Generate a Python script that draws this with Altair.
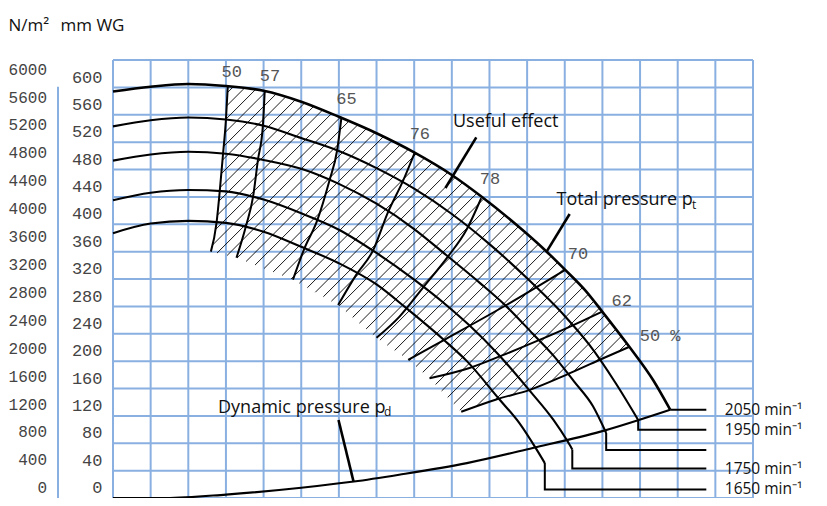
import numpy as np
import pandas as pd
import altair as alt

# ---------------- layout of the plot area ----------------
W, H = 640, 438
X_DOMAIN = [0, 17]            # flow, in grid columns (no scale printed)
Y_DOMAIN = [-15, 625]         # total pressure, mm WG
MM_TO_NM = 9.81
NM_DOMAIN = [Y_DOMAIN[0] * MM_TO_NM, Y_DOMAIN[1] * MM_TO_NM]

grid_cols = list(range(0, 18))
grid_rows = list(range(-15, 626, 40))
mm_ticks = list(range(0, 601, 40))
nm_ticks = list(range(0, 6001, 400))

# ---------------- total pressure curves (mm WG) ----------------
c2050_x = [0, 1, 2, 3, 4, 5, 6, 7, 8, 9, 9.75, 10.7, 11.5, 12, 12.55, 13, 13.7, 14.35, 14.8]
c2050_y = [579, 586, 590, 587, 580, 564, 542, 518, 490, 457, 427, 385, 346, 319, 288, 257, 207, 157, 114]
c1950_x = [0, 1, 2, 3, 4, 5, 6, 7, 8, 9, 10, 11, 12, 12.65, 13.35, 13.95]
c1950_y = [528, 537, 541, 538, 529, 511, 492, 467, 437, 400, 356, 306, 251, 209, 153, 99]
c1850_x = [0, 1, 2, 3, 4, 5, 6, 7, 8, 8.85, 9.75, 10.45, 11.15, 11.7, 12.25, 12.75, 13.1]
c1850_y = [478, 487, 491, 488, 479, 466, 444, 415, 378, 340, 299, 265, 225, 193, 155, 119, 80]
c1750_x = [0, 1, 2, 3, 4, 5, 6, 7, 8, 8.85, 9.45, 10.2, 11.05, 11.7, 12.05, 12.2]
c1750_y = [420, 431, 435, 433, 421, 401, 377, 343, 304, 267, 238, 197, 143, 99, 70, 56]
c1650_x = [0, 1, 2, 3, 4, 5, 6, 7, 7.8, 8.85, 9.4, 10.25, 10.8, 11.25, 11.47]
c1650_y = [372, 386, 390, 387, 374, 352, 328, 297, 262, 213, 185, 130, 94, 56, 36]

speeds = ["2050", "1950", "1850", "1750", "1650"]
speed_label_y = [114, 84.7, 55.1, 28, -2.5]
speed_text = ["2050 min⁻¹", "1950 min⁻¹", "", "1750 min⁻¹", "1650 min⁻¹"]
leader_end_x = 15.76
speed_text_x = 16.25

# ---------------- dynamic pressure ----------------
dp_x = [0, 1.4, 3, 5, 6.4, 7.6, 9.4, 11.15, 12.95, 14.8]
dp_y = [-15, -15, -10, 0, 9, 19, 36, 58, 82, 114]

# ---------------- efficiency lines (top -> bottom) ----------------
eff50a_x = [3.05, 3.0, 2.92, 2.83, 2.75, 2.6]
eff50a_y = [587, 538, 486, 430, 387, 345]
eff57_x = [4.03, 3.98, 3.85, 3.72, 3.54, 3.28]
eff57_y = [580, 528, 479, 425, 384, 336]
eff65_x = [6.07, 5.95, 5.75, 5.42, 5.08, 4.78]
eff65_y = [542, 492, 449, 390, 349, 304]
eff76_x = [8.01, 7.7, 7.3, 6.91, 6.46, 5.98]
eff76_y = [489, 448, 402, 347, 311, 267]
eff78_x = [9.78, 9.39, 8.9, 8.23, 7.61, 7.0]
eff78_y = [423, 377, 338, 292, 250, 219]
eff70_x = [12.0, 10.45, 8.86, 7.84]
eff70_y = [318, 267, 218, 187]
eff62_x = [12.98, 12.2, 11.33, 10.32, 9.47, 8.41]
eff62_y = [257, 237, 216, 193, 175, 160]
eff50p_x = [13.72, 12.93, 12.04, 11.07, 10.18, 9.25]
eff50p_y = [206, 187, 165, 143, 129, 111]

eff_names = ["50", "57", "65", "76", "78", "70", "62", "50 %"]
eff_label_x = [2.88, 3.90, 5.93, 7.88, 9.74, 12.08, 13.24, 13.99]
eff_label_y = [608, 602, 568, 517, 451, 341, 273, 221]

# ---------------- annotations ----------------
note_text = ["Useful effect", "Total pressure p", "Dynamic pressure p"]
note_x = [9.03, 11.78, 2.79]
note_y = [535, 421, 117]
sub_text = ["t", "d"]
sub_x = [15.38, 7.2]
sub_y = [413, 110]
pointer_x = [9.65, 12.13, 5.99]
pointer_y = [512, 400, 99]
pointer_x2 = [8.83, 11.53, 6.39]
pointer_y2 = [438, 346, 9]

HATCH_STEP = 12.5   # px between hatch lines

# ====================================================================
xs = alt.Scale(domain=X_DOMAIN, nice=False, zero=False)
ys = alt.Scale(domain=Y_DOMAIN, nice=False, zero=False)
BLUE = "#8ab0e1"
SANS = "Open Sans"
MONO = "Liberation Mono"


def X(f):
    return alt.X(f, type="quantitative", scale=xs, axis=None)


def Y(f, axis=None):
    return alt.Y(f, type="quantitative", scale=ys, axis=axis)


# grid
vgrid = alt.Chart(pd.DataFrame({"x": grid_cols, "y0": Y_DOMAIN[0], "y1": Y_DOMAIN[1]})).mark_rule(
    color=BLUE, strokeWidth=2).encode(x=X("x"), y=Y("y0"), y2="y1")

mm_axis = alt.Axis(values=mm_ticks, orient="left", format="d", ticks=False, domain=False, grid=False,
                   labelPadding=11, labelFont=MONO, labelFontSize=17, labelColor="#444",
                   labelOverlap=False, title="mm WG", titleAngle=0, titleX=-53, titleY=-35,
                   titleAlign="left", titleBaseline="middle", titleFont=SANS, titleFontSize=17,
                   titleFontWeight="normal", titleColor="#111")
hgrid = alt.Chart(pd.DataFrame({"y": grid_rows, "x0": X_DOMAIN[0], "x1": X_DOMAIN[1]})).mark_rule(
    color=BLUE, strokeWidth=2).encode(y=Y("y", mm_axis), x=X("x0"), x2="x1")

side_line = alt.Chart(pd.DataFrame({"y0": [586], "y1": [Y_DOMAIN[0]]})).mark_rule(
    color=BLUE, strokeWidth=2).encode(x=alt.value(-55), y=Y("y0"), y2="y1")

# hatch of the "useful effect" region
sx = W / (X_DOMAIN[1] - X_DOMAIN[0])
sy = H / (Y_DOMAIN[1] - Y_DOMAIN[0])
top_xs = np.linspace(eff50a_x[0], eff50p_x[0], 160)
top_ys = np.interp(top_xs, c2050_x, c2050_y)
env = [(eff62_x[-1], eff62_y[-1]), (eff70_x[-1], eff70_y[-1]), (eff78_x[-1], eff78_y[-1]),
       (eff76_x[-1], eff76_y[-1]), (eff65_x[-1], eff65_y[-1]), (eff57_x[-1], eff57_y[-1])]
poly_x = list(eff50a_x[::-1]) + list(top_xs) + list(eff50p_x) + [p[0] for p in env]
poly_y = list(eff50a_y[::-1]) + list(top_ys) + list(eff50p_y) + [p[1] for p in env]
u = np.array(poly_x) * sx
v = np.array(poly_y) * sy
d = u - v
segs = []
n = len(u)
for k in np.arange(d.min() + HATCH_STEP / 2, d.max(), HATCH_STEP):
    pts = []
    for i in range(n):
        j = (i + 1) % n
        f1, f2 = d[i] - k, d[j] - k
        if (f1 < 0) != (f2 < 0):
            t = f1 / (f1 - f2)
            pts.append((u[i] + t * (u[j] - u[i]), v[i] + t * (v[j] - v[i])))
    pts.sort()
    for a in range(0, len(pts) - 1, 2):
        (ua, va), (ub, vb) = pts[a], pts[a + 1]
        segs.append({"x": ua / sx, "y": va / sy, "x2": ub / sx, "y2": vb / sy})
hatch = alt.Chart(pd.DataFrame(segs)).mark_rule(color="black", strokeWidth=0.9).encode(
    x=X("x"), y=Y("y"), x2="x2", y2="y2")

# pressure curves
curve_rows = []
all_x = [c2050_x, c1950_x, c1850_x, c1750_x, c1650_x]
all_y = [c2050_y, c1950_y, c1850_y, c1750_y, c1650_y]
for name, cx, cy in zip(speeds, all_x, all_y):
    for a, b in zip(cx, cy):
        curve_rows.append({"speed": name, "x": a, "y": b, "w": 2.6 if name == "2050" else 2.1})
curves = alt.Chart(pd.DataFrame(curve_rows)).mark_line(color="black", interpolate="monotone").encode(
    x=X("x"), y=Y("y"), detail="speed:N",
    strokeWidth=alt.StrokeWidth("w:Q", scale=None, legend=None))

dyn = alt.Chart(pd.DataFrame({"x": dp_x, "y": dp_y})).mark_line(
    color="black", strokeWidth=2.1, interpolate="monotone").encode(x=X("x"), y=Y("y"))

# efficiency lines
eff_rows = []
for name, ex, ey in zip(eff_names, [eff50a_x, eff57_x, eff65_x, eff76_x, eff78_x, eff70_x, eff62_x, eff50p_x],
                        [eff50a_y, eff57_y, eff65_y, eff76_y, eff78_y, eff70_y, eff62_y, eff50p_y]):
    for i, (a, b) in enumerate(zip(ex, ey)):
        eff_rows.append({"eff": name, "x": a, "y": b, "i": i})
effs = alt.Chart(pd.DataFrame(eff_rows)).mark_line(color="black", strokeWidth=2, interpolate="monotone").encode(
    x=X("x"), y=Y("y"), detail="eff:N")

eff_lbl = alt.Chart(pd.DataFrame({"x": eff_label_x, "y": eff_label_y, "t": eff_names})).mark_text(
    align="left", baseline="middle", font=MONO, fontSize=17, color="#555").encode(
    x=X("x"), y=Y("y"), text="t:N")

# speed leaders
lead_rows = []
for name, cx, cy, ly in zip(speeds, all_x, all_y, speed_label_y):
    path = [(cx[-1], cy[-1]), (cx[-1], ly), (leader_end_x, ly)]
    for i, (a, b) in enumerate(path):
        lead_rows.append({"speed": name, "x": a, "y": b, "i": i})
leaders = alt.Chart(pd.DataFrame(lead_rows)).mark_line(color="black", strokeWidth=2).encode(
    x=X("x"), y=Y("y"), detail="speed:N", order="i:Q")

speed_lbl = alt.Chart(pd.DataFrame({"x": speed_text_x, "y": speed_label_y, "t": speed_text})).mark_text(
    align="left", baseline="middle", font=SANS, fontSize=15.5, color="#111").encode(
    x=X("x"), y=Y("y"), text="t:N")

pointers = alt.Chart(pd.DataFrame({"x": pointer_x, "y": pointer_y, "x2": pointer_x2, "y2": pointer_y2})).mark_rule(
    color="black", strokeWidth=2.6).encode(x=X("x"), y=Y("y"), x2="x2", y2="y2")

notes = alt.Chart(pd.DataFrame({"x": note_x, "y": note_y, "t": note_text})).mark_text(
    align="left", baseline="middle", font=SANS, fontSize=18, color="#111").encode(
    x=X("x"), y=Y("y"), text="t:N")
subs = alt.Chart(pd.DataFrame({"x": sub_x, "y": sub_y, "t": sub_text})).mark_text(
    align="left", baseline="middle", font=SANS, fontSize=12, color="#111").encode(
    x=X("x"), y=Y("y"), text="t:N")

nm_axis = alt.Axis(values=nm_ticks, orient="left", offset=55, format="d", ticks=False, domain=False,
                   grid=False, labelPadding=11.5, labelFont=MONO, labelFontSize=16, labelColor="#444",
                   labelOverlap=False, title="N/m²", titleAngle=0, titleX=-50, titleY=-35,
                   titleAlign="left", titleBaseline="middle", titleFont=SANS, titleFontSize=17,
                   titleFontWeight="normal", titleColor="#111")
nm_layer = alt.Chart(pd.DataFrame({"nm": nm_ticks})).mark_point(opacity=0).encode(
    y=alt.Y("nm:Q", scale=alt.Scale(domain=NM_DOMAIN, nice=False, zero=False), axis=nm_axis))

chart = alt.layer(hgrid, vgrid, side_line, hatch, curves, dyn, effs, leaders,
                  pointers, eff_lbl, speed_lbl, notes, subs, nm_layer).resolve_scale(
    y="independent").properties(
    width=W, height=H, autosize="none",
    padding={"left": 105, "top": 52, "right": 66, "bottom": 0},
).configure_view(strokeWidth=0)

chart.save("out.html", embed_options={"renderer": "svg", "actions": False})
